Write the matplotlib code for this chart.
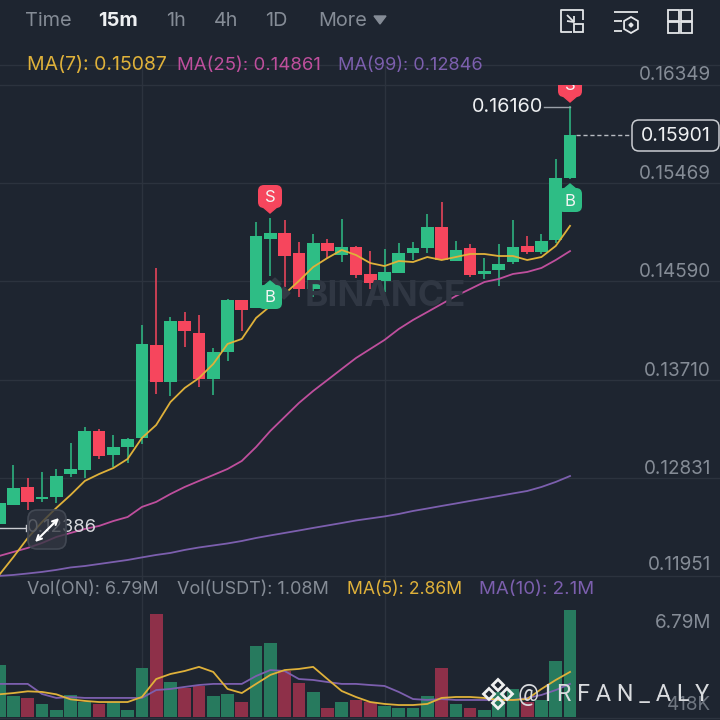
import numpy as np
import matplotlib
matplotlib.use("Agg")
import matplotlib.pyplot as plt
from matplotlib.patches import FancyBboxPatch, Polygon, Rectangle, RegularPolygon

plt.rcParams['font.family'] = ['Inter', 'DejaVu Sans']

opens = [.12417,.12587,.12748,.12640,.12658,.12864,.12900,.13250,.13035,.13106,.13187,.14020,.13688,.14235,.14127,.13715,.13957,.14423,.14351,.14969,.15023,.14844,.14521,.14933,.14826,.14898,.14656,.14593,.14665,.14844,.14889,.15077,.14772,.14889,.14656,.14692,.14763,.14907,.14853,.14960,.15516]
highs = [.12605,.12945,.12828,.12882,.12909,.13142,.13285,.13267,.13214,.13187,.14199,.14710,.14271,.14315,.14289,.13993,.14432,.14423,.15122,.15157,.15139,.14942,.15014,.14969,.15148,.14907,.14862,.14880,.14933,.14942,.15193,.15301,.14951,.14925,.14799,.14925,.15139,.14996,.15014,.15686,.16160]
lows = [.12417,.12587,.12542,.12614,.12605,.12837,.12828,.12999,.12927,.12963,.13133,.13581,.13563,.14002,.13644,.13572,.13877,.14145,.14351,.14638,.14539,.14450,.14450,.14799,.14763,.14620,.14521,.14495,.14665,.14781,.14844,.14781,.14772,.14629,.14611,.14548,.14745,.14835,.14835,.14933,.15507]
closes = [.12605,.12739,.12614,.12658,.12846,.12909,.13250,.13026,.13106,.13178,.14029,.13688,.14235,.14145,.13715,.13957,.14423,.14333,.14996,.15023,.14817,.14521,.14933,.14862,.14898,.14647,.14575,.14674,.14844,.14889,.15077,.14781,.14871,.14647,.14683,.14745,.14898,.14853,.14951,.15516,.15901]
ma7 = [.11960,.12121,.12291,.12434,.12560,.12676,.12802,.12864,.12918,.12999,.13187,.13303,.13509,.13635,.13724,.13850,.14029,.14074,.14262,.14369,.14477,.14593,.14718,.14799,.14871,.14826,.14754,.14727,.14772,.14763,.14808,.14781,.14808,.14835,.14835,.14817,.14817,.14781,.14808,.14907,.15087]
ma25 = [.12130,.12166,.12202,.12246,.12300,.12336,.12372,.12399,.12443,.12479,.12569,.12614,.12685,.12748,.12802,.12855,.12909,.12981,.13106,.13250,.13375,.13500,.13608,.13706,.13805,.13903,.13984,.14065,.14163,.14244,.14315,.14387,.14459,.14521,.14584,.14611,.14656,.14674,.14710,.14781,.14861]
ma99 = [.11951,.11960,.11973,.11987,.12005,.12027,.12040,.12058,.12076,.12094,.12117,.12139,.12157,.12184,.12206,.12224,.12242,.12264,.12291,.12314,.12336,.12358,.12381,.12403,.12425,.12448,.12466,.12484,.12506,.12533,.12555,.12578,.12600,.12623,.12645,.12667,.12690,.12712,.12748,.12793,.12846]
volumes = [3.28,1.33,1.21,.81,.46,1.40,.95,.83,.95,.44,3.11,6.54,2.22,1.84,1.97,1.33,1.46,.95,4.51,4.70,2.92,2.16,1.59,.57,.95,1.08,.95,.70,.57,.57,1.33,3.11,.83,.57,.44,1.59,1.78,.95,1.08,3.56,6.79]
vol_ma5 = [1.44,1.52,1.63,1.59,1.44,1.12,1.02,.95,.95,.95,1.27,2.41,2.73,2.92,3.18,2.86,1.78,1.52,2.10,2.67,2.98,3.05,3.18,2.41,1.65,1.27,.95,.83,.76,.76,.83,1.21,1.27,1.27,1.21,1.08,1.08,1.14,1.78,2.35,2.86]
vol_ma10 = [2.10,2.10,2.10,1.46,1.21,1.27,1.21,1.21,1.21,1.21,1.21,1.71,1.78,1.91,2.03,2.10,2.10,2.10,2.60,2.98,2.92,2.41,2.35,2.22,2.10,2.10,2.03,1.97,1.59,1.14,1.08,1.14,1.08,1.08,1.08,1.08,1.08,1.21,1.40,1.71,2.10]
price_ticks = [0.16349, 0.15469, 0.14590, 0.13710, 0.12831, 0.11951]
grid_candles = [10, 27]
last_price = 0.15901
high_price = 0.16160
low_label = "0.12386"
vol_ticks = ["6.79M", "418K"]
timeframes = ["Time", "15m", "1h", "4h", "1D", "More"]
ma_legend = ["MA(7): 0.15087", "MA(25): 0.14861", "MA(99): 0.12846"]
vol_legend = ["Vol(ON): 6.79M", "Vol(USDT): 1.08M", "MA(5): 2.86M", "MA(10): 2.1M"]

BG = '#1e2530'; GRID = '#2c333e'; GREEN = '#2ebd85'; RED = '#f6465d'
VG = '#277a5e'; VR = '#8e3049'; YEL = '#dfb13a'; PINK = '#bf4f9d'; PUR = '#7c5fae'
TXT = '#858c96'; WHITE = '#eef0f2'

fig = plt.figure(figsize=(7.2, 7.2), dpi=100, facecolor=BG)
def axpix(y0, y1):
    return fig.add_axes([0, 1 - y1 / 720, 1, (y1 - y0) / 720])

xs = np.arange(len(opens))
xlim = (0.056, 50.51)
colors = [GREEN if c >= o else RED for o, c in zip(opens, closes)]
vcolors = [VG if c >= o else VR for o, c in zip(opens, closes)]

ax = axpix(65, 590)
ax.set_facecolor('none')
ax.set_xlim(*xlim)
ax.set_ylim(.11825, .16528)
for t in price_ticks:
    ax.axhline(t, color=GRID, lw=1.0, zorder=0)
for g in grid_candles:
    ax.axvline(g, color=GRID, lw=1.0, zorder=0)
ax.vlines(xs, lows, highs, colors=colors, lw=1.1, zorder=3)
ax.bar(xs, np.abs(np.array(closes) - np.array(opens)),
       bottom=np.minimum(opens, closes), width=0.89, color=colors, zorder=3)
ax.plot(xs, ma99, color=PUR, lw=1.3, zorder=4)
ax.plot(xs, ma25, color=PINK, lw=1.3, zorder=4)
ax.plot(xs, ma7, color=YEL, lw=1.3, zorder=4)
ax.axis('off')

axv = axpix(590, 717)
axv.set_facecolor('none')
axv.set_xlim(*xlim)
axv.set_ylim(0, 8.06)
for g in grid_candles:
    axv.axvline(g, color=GRID, lw=1.0, zorder=0)
axv.bar(xs, volumes, width=0.89, color=vcolors, zorder=2)
axv.plot(xs, vol_ma10, color=PUR, lw=1.3, zorder=3)
axv.plot(xs, vol_ma5, color=YEL, lw=1.3, zorder=4)
axv.axis('off')

# overlay in pixel coordinates for the app furniture
o = fig.add_axes([0, 0, 1, 1], zorder=10)
o.set_xlim(0, 720); o.set_ylim(720, 0); o.axis('off'); o.patch.set_alpha(0)

def text(x, y, s, color=TXT, size=13.6, ha='left', **kw):
    return o.text(x, y, s, color=color, fontsize=size, ha=ha, va='center', **kw)

o.plot([0, 720], [65, 65], color=GRID, lw=1)
o.plot([0, 720], [717.5, 717.5], color=GRID, lw=1)

for (x, s) in zip([25, 98, 166, 214, 265, 318], timeframes):
    if s == "15m":
        text(x, 21, s, color=WHITE, size=14.5, fontweight='bold')
    else:
        text(x, 21, s, size=14.3)
o.add_patch(Polygon([[374, 16], [386, 16], [380, 24]], color=TXT))

# legends
for x, s, c, z in zip([27, 177, 338], ma_legend, [YEL, PINK, PUR], [14.0, 13.4, 13.1]):
    text(x, 65, s, color=c, size=z)
for x, s, c, z in zip([27, 177, 347, 479], vol_legend, [TXT, TXT, YEL, PUR], [12.9, 13.0, 12.7, 13.5]):
    text(x, 590, s, color=c, size=z)

# price axis labels
for t, y in zip(price_ticks, [75, 174, 272, 371, 469, 565]):
    text(711, y, f"{t:.5f}", ha='right')
text(711, 623, vol_ticks[0], ha='right')
text(711, 705, vol_ticks[1], ha='right', color='#6f7680')

# last price box
price_y = lambda p: ax.transData.transform((0, p))[1]
yl = 720 - price_y(last_price)
yh = 720 - price_y(high_price)
o.plot([576, 630], [yl + .5, yl + .5], color='#b8bcc2', lw=1, ls=(0, (3, 2)))
o.add_patch(FancyBboxPatch((632, 120), 87, 31, boxstyle="round,pad=0,rounding_size=7",
                           fc=BG, ec='#c9ccd1', lw=1.1, mutation_aspect=1))
text(676, 136, f"{last_price:.5f}", color=WHITE, ha='center', size=14)
o.plot([544, 570], [yh + 1, yh + 1], color='#9aa0a8', lw=1)
text(472, 107, f"{high_price:.5f}", color=WHITE, size=14.3)

# low price label and fullscreen button
o.plot([0, 26], [528, 528], color='#c9ccd1', lw=1)
o.plot([26, 26], [525, 531], color='#c9ccd1', lw=1)
text(27, 528, low_label, color='#d6d8db', zorder=3, size=13.3)
o.add_patch(FancyBboxPatch((28, 510), 38, 39, boxstyle="round,pad=0,rounding_size=9",
                           fc=(0.2, 0.22, 0.26, 0.78), ec='#424853', lw=1.2, zorder=4))
o.annotate('', xy=(59, 518), xytext=(47, 530), zorder=5, arrowprops=dict(arrowstyle='->', color='white', lw=1.5, mutation_scale=9, shrinkA=0, shrinkB=0))
o.annotate('', xy=(35, 542), xytext=(47, 530), zorder=5, arrowprops=dict(arrowstyle='->', color='white', lw=1.5, mutation_scale=9, shrinkA=0, shrinkB=0))

# watermark
for (dx, dy) in [(0, -9), (-9, 0), (9, 0), (0, 9)]:
    o.add_patch(RegularPolygon((275 + dx, 293 + dy), 4, radius=6, color='#333a45', zorder=0))
text(305, 296, "BINANCE", color='#303743', size=25.4, fontweight='bold', zorder=0.5)

def badge(cx, top, letter, color, up):
    clip = Rectangle((0, 85), 720, 500, transform=o.transData)
    if up:
        b = FancyBboxPatch((cx - 12, top + 4), 24, 24, boxstyle="round,pad=0,rounding_size=6", fc=color, ec='none', zorder=5)
        tip = Polygon([[cx - 6, top + 5], [cx, top], [cx + 6, top + 5]], color=color, zorder=5)
        ty = top + 17
    else:
        b = FancyBboxPatch((cx - 12, top), 24, 23, boxstyle="round,pad=0,rounding_size=6", fc=color, ec='none', zorder=5)
        tip = Polygon([[cx - 7, top + 22], [cx, top + 28], [cx + 7, top + 22]], color=color, zorder=5)
        ty = top + 12
    o.add_patch(b); o.add_patch(tip)
    t = text(cx, ty, letter, color='#f4f4f4', size=12, ha='center', zorder=6)
    t.set_clip_on(True)
    b.set_clip_path(clip); tip.set_clip_path(clip); t.set_clip_path(clip)

badge(270, 185, 'S', RED, False)
badge(570, 74, 'S', RED, False)
badge(270, 281, 'B', GREEN, True)
badge(570, 184, 'B', GREEN, True)

# top-right icons
ic = dict(color='#e4e6e8', lw=1.3, solid_capstyle='butt')
o.plot([583, 583, 561, 561, 572], [20, 10, 10, 32, 32], **ic)
o.add_patch(Rectangle((574, 24), 9, 8, fc='none', ec='#e4e6e8', lw=1.3))
o.plot([567, 574], [15, 22], **ic)
o.plot([567, 574, 574], [21, 22, 16], **ic)
o.plot([614, 638], [12, 12], **ic)
o.plot([614, 622], [21, 21], **ic)
o.plot([614, 622], [31, 31], **ic)
o.add_patch(RegularPolygon((631, 25), 6, radius=8, fc='none', ec='#e4e6e8', lw=1.3))
o.add_patch(RegularPolygon((631, 25), 4, radius=2, color='#e4e6e8'))
for x in (668, 681):
    for y in (10, 22):
        o.add_patch(Rectangle((x, y), 11, 10.5, fc='none', ec='#e4e6e8', lw=1.3))

# overlay signature
for (dx, dy) in [(0, -9), (-9, 0), (9, 0), (0, 9)]:
    o.add_patch(RegularPolygon((498 + dx, 694 + dy), 4, radius=5.5, fc='none', ec='#f0f0f0', lw=2, zorder=7))
text(518, 694, "@ I R F A N _ A L Y", color='#d9dbde', size=16.8, zorder=8, family='Roboto')

fig.savefig('out.png', dpi=100, facecolor=BG)
